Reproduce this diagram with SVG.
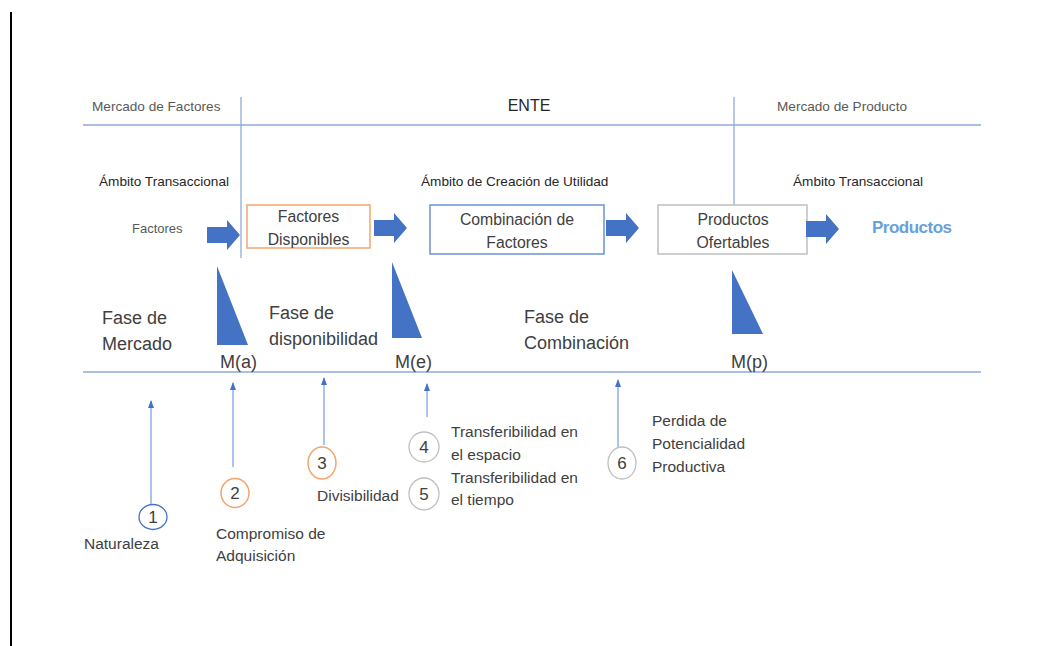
<svg xmlns="http://www.w3.org/2000/svg" width="1045" height="646" viewBox="0 0 1045 646">
<defs>
<style>
text{font-family:"Liberation Sans",Arial,sans-serif;fill:#404040}
.hdr{font-size:13.6px;fill:#595959}
.amb{font-size:13.6px;fill:#262626}
.box{font-size:15.8px}
.fase{font-size:18px}
.lbl{font-size:15.5px}
.num{font-size:17px;text-anchor:middle}
.ln{stroke:#8FAADC;stroke-width:1.3;fill:none}
.blk{fill:#4472C4}
.thin{stroke:#5B87D0;stroke-width:1;fill:none}
</style>
<marker id="ah" viewBox="0 0 8 6" refX="7" refY="3" markerWidth="8" markerHeight="6" markerUnits="userSpaceOnUse" orient="auto">
<path d="M0,0 L8,3 L0,6 Z" fill="#4472C4"/>
</marker>
<path id="barrow" d="M0,-8 H20 V-15 L33,0 L20,15 V8 H0 Z"/>
</defs>
<rect width="1045" height="646" fill="#fff"/>
<line x1="11" y1="12" x2="11" y2="646" stroke="#000" stroke-width="2"/>

<g id="grid">
<line class="ln" x1="83" y1="125" x2="981" y2="125"/>
<line class="ln" x1="83" y1="372" x2="981" y2="372"/>
<line class="ln" x1="241" y1="97" x2="241" y2="258"/>
<line class="ln" x1="734" y1="97" x2="734" y2="205"/>
</g>

<g id="headers">
<text class="hdr" x="92" y="111">Mercado de Factores</text>
<text x="529" y="111" text-anchor="middle" style="font-size:16px;fill:#262626">ENTE</text>
<text class="hdr" x="777" y="111">Mercado de Producto</text>
<text class="amb" x="99" y="186">Ámbito Transaccional</text>
<text class="amb" x="421" y="186">Ámbito de Creación de Utilidad</text>
<text class="amb" x="793" y="186">Ámbito Transaccional</text>
</g>

<g id="factores">
<text x="132" y="233" style="font-size:13px;fill:#595959">Factores</text>
</g>
<g id="factores-disponibles">
<rect x="247" y="205" width="123" height="43" fill="#fff" stroke="#F4A56C" stroke-width="1.5"/>
<text class="box" x="308.5" y="222" text-anchor="middle">Factores</text>
<text class="box" x="308.5" y="245" text-anchor="middle">Disponibles</text>
</g>
<g id="combinacion">
<rect x="430" y="205" width="174" height="49" fill="#fff" stroke="#6A93D4" stroke-width="1.5"/>
<text class="box" x="517" y="225" text-anchor="middle">Combinación de</text>
<text class="box" x="517" y="248" text-anchor="middle">Factores</text>
</g>
<g id="productos-ofertables">
<rect x="658" y="205" width="149" height="49" fill="#fff" stroke="#BFBFBF" stroke-width="1.5"/>
<text class="box" x="733" y="225" text-anchor="middle">Productos</text>
<text class="box" x="733" y="248" text-anchor="middle">Ofertables</text>
</g>
<g id="productos">
<text x="872" y="233" style="font-size:17px;font-weight:bold;fill:#6A9FD8;letter-spacing:-0.5px">Productos</text>
</g>

<g id="connectors">
<use href="#barrow" class="blk" x="207" y="235"/>
<use href="#barrow" class="blk" x="374" y="228"/>
<use href="#barrow" class="blk" x="606" y="228"/>
<use href="#barrow" class="blk" x="806" y="229"/>
<line class="thin" x1="151" y1="505" x2="151" y2="401" marker-end="url(#ah)"/>
<line class="thin" x1="233" y1="467" x2="233" y2="383" marker-end="url(#ah)"/>
<line class="thin" x1="324" y1="445" x2="324" y2="378" marker-end="url(#ah)"/>
<line class="thin" x1="427" y1="417" x2="427" y2="384" marker-end="url(#ah)"/>
<line class="thin" x1="618" y1="447" x2="618" y2="380" marker-end="url(#ah)"/>
</g>

<g id="milestones">
<path class="blk" d="M217,266 L217,345 L248,345 Z"/>
<path class="blk" d="M392,262 L392,338 L422,338 Z"/>
<path class="blk" d="M732,270 L732,334 L763,334 Z"/>
<text class="fase" x="220" y="368">M(a)</text>
<text class="fase" x="395" y="368">M(e)</text>
<text class="fase" x="731" y="368">M(p)</text>
</g>

<g id="fases">
<text class="fase" x="102" y="324">Fase de</text>
<text class="fase" x="102" y="350">Mercado</text>
<text class="fase" x="269" y="319">Fase de</text>
<text class="fase" x="269" y="345">disponibilidad</text>
<text class="fase" x="524" y="323">Fase de</text>
<text class="fase" x="524" y="349">Combinación</text>
</g>

<g id="n1">
<ellipse cx="153" cy="517" rx="14" ry="12.5" fill="#fff" stroke="#4472C4" stroke-width="1.3"/>
<text class="num" x="153" y="523">1</text>
<text class="lbl" x="84" y="549">Naturaleza</text>
</g>
<g id="n2">
<ellipse cx="235" cy="493" rx="14" ry="14.5" fill="#fff" stroke="#F4A56C" stroke-width="1.5"/>
<text class="num" x="235" y="499">2</text>
<text class="lbl" x="216" y="539">Compromiso de</text>
<text class="lbl" x="216" y="561">Adquisición</text>
</g>
<g id="n3">
<ellipse cx="322" cy="463" rx="14" ry="16" fill="#fff" stroke="#F4A56C" stroke-width="1.5"/>
<text class="num" x="322" y="469">3</text>
<text class="lbl" x="317" y="501">Divisibilidad</text>
</g>
<g id="n4">
<ellipse cx="424" cy="447" rx="15" ry="15" fill="#fff" stroke="#BFBFBF" stroke-width="1.3"/>
<text class="num" x="424" y="453">4</text>
<text class="lbl" x="451" y="437">Transferibilidad en</text>
<text class="lbl" x="451" y="460">el espacio</text>
</g>
<g id="n5">
<ellipse cx="424" cy="494" rx="15" ry="16" fill="#fff" stroke="#BFBFBF" stroke-width="1.3"/>
<text class="num" x="424" y="500">5</text>
<text class="lbl" x="451" y="483">Transferibilidad en</text>
<text class="lbl" x="451" y="505">el tiempo</text>
</g>
<g id="n6">
<ellipse cx="622" cy="463" rx="14" ry="16" fill="#fff" stroke="#BFBFBF" stroke-width="1.3"/>
<text class="num" x="622" y="469">6</text>
<text class="lbl" x="652" y="426">Perdida de</text>
<text class="lbl" x="652" y="449">Potencialidad</text>
<text class="lbl" x="652" y="472">Productiva</text>
</g>
</svg>
